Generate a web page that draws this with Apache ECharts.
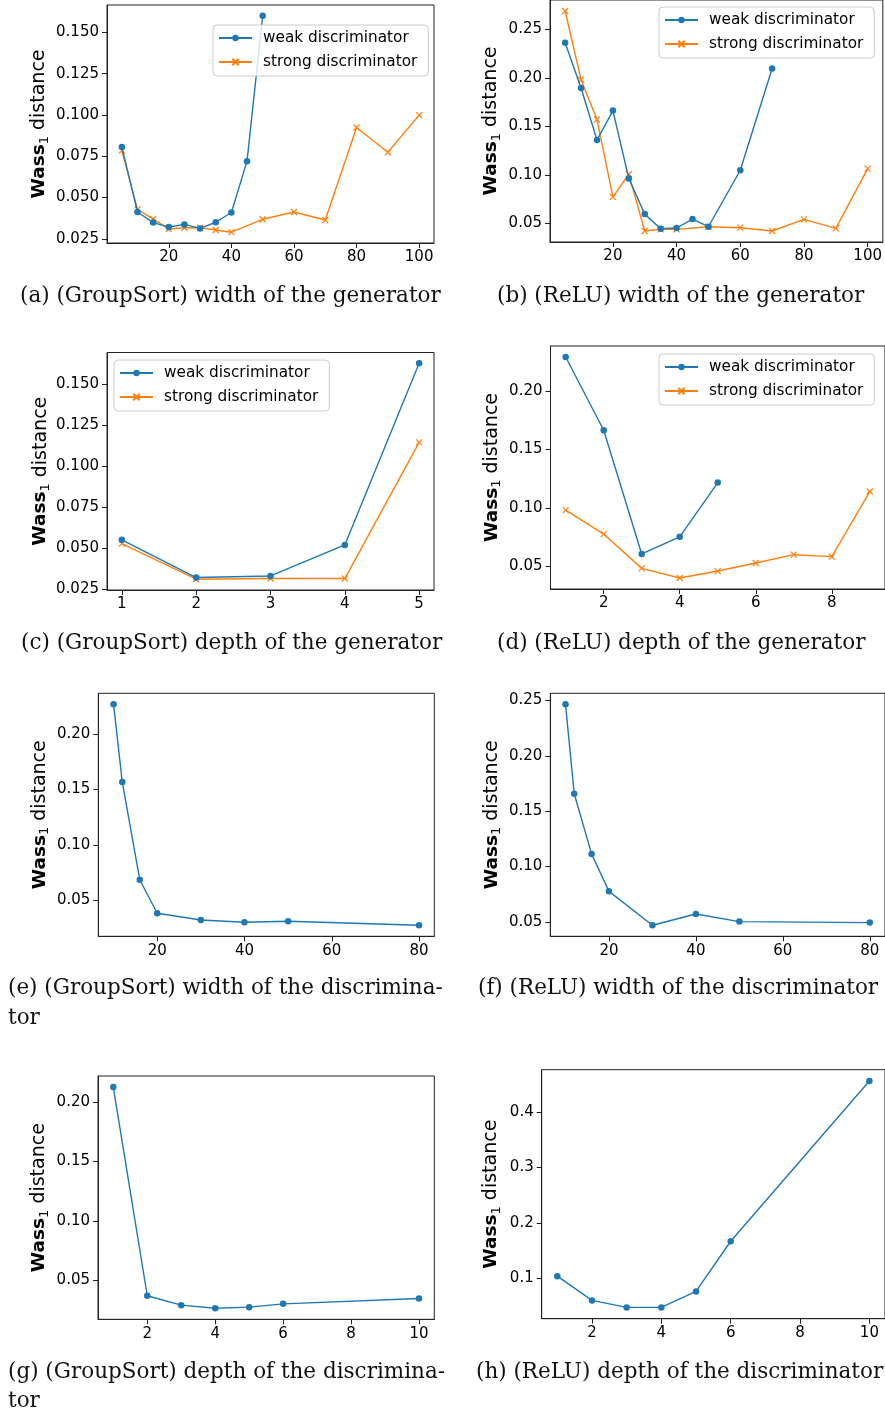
<!DOCTYPE html>
<html><head><meta charset="utf-8">
<script src="https://cdn.jsdelivr.net/npm/echarts@6/dist/echarts.min.js"></script>
<style>html,body{margin:0;padding:0;background:#fff}#c{width:885px;height:1414px}</style>
</head><body><div id="c"></div>
<script>
// ---------- data ----------
const aWeakX = [5,10,15,20,25,30,35,40,45,50];
const aWeakY = [0.0805,0.0412,0.0348,0.0321,0.0337,0.0313,0.0350,0.0409,0.0720,0.1600];
const aStrongX = [5,10,15,20,25,30,35,40,50,60,70,80,90,100];
const aStrongY = [0.0784,0.0428,0.0371,0.0309,0.0317,0.0317,0.0303,0.0290,0.0368,0.0412,0.0364,0.0924,0.0774,0.0999];
const bWeakX = [5,10,15,20,25,30,35,40,45,50,60,70];
const bWeakY = [0.2360,0.1895,0.1358,0.1662,0.0962,0.0595,0.0445,0.0452,0.0544,0.0465,0.1047,0.2096];
const bStrongX = [5,10,15,20,25,30,35,40,50,60,70,80,90,100];
const bStrongY = [0.2688,0.1980,0.1570,0.0773,0.1006,0.0421,0.0438,0.0438,0.0465,0.0455,0.0421,0.0541,0.0448,0.1064];
const cX = [1,2,3,4,5];
const cWeakY = [0.0551,0.0321,0.0331,0.0520,0.1628];
const cStrongY = [0.0528,0.0311,0.0315,0.0315,0.1146];
const dWeakX = [1,2,3,4,5];
const dWeakY = [0.2290,0.1664,0.0606,0.0753,0.1217];
const dStrongX = [1,2,3,4,5,6,7,8,9];
const dStrongY = [0.0981,0.0776,0.0483,0.0401,0.0460,0.0529,0.0600,0.0583,0.1140];
const eX = [10,12,16,20,30,40,50,80];
const eY = [0.2270,0.1568,0.0686,0.0383,0.0323,0.0302,0.0311,0.0275];
const fX = [10,12,16,20,30,40,50,80];
const fY = [0.2464,0.1657,0.1114,0.0776,0.0470,0.0572,0.0503,0.0494];
const gX = [1,2,3,4,5,6,10];
const gY = [0.2126,0.0372,0.0293,0.0267,0.0276,0.0304,0.0349];
const hX = [1,2,3,4,5,6,10];
const hY = [0.1041,0.0605,0.0479,0.0479,0.0766,0.1670,0.4557];

const xTicksWidthGen = [20,40,60,80,100];
const xTicksDepthGS = [1,2,3,4,5];
const xTicksDepthReLU = [2,4,6,8];
const xTicksWidthDisc = [20,40,60,80];
const xTicksDepthDisc = [2,4,6,8,10];
const yTicksA = [0.025,0.050,0.075,0.100,0.125,0.150];
const yTicksB = [0.05,0.10,0.15,0.20,0.25];
const yTicksC = [0.025,0.050,0.075,0.100,0.125,0.150];
const yTicksD = [0.05,0.10,0.15,0.20];
const yTicksE = [0.05,0.10,0.15,0.20];
const yTicksF = [0.05,0.10,0.15,0.20,0.25];
const yTicksG = [0.05,0.10,0.15,0.20];
const yTicksH = [0.1,0.2,0.3,0.4];

const captions = [
  ['(a) (GroupSort) width of the generator'],
  ['(b) (ReLU) width of the generator'],
  ['(c) (GroupSort) depth of the generator'],
  ['(d) (ReLU) depth of the generator'],
  ['(e) (GroupSort) width of the discrimina-','tor'],
  ['(f) (ReLU) width of the discriminator'],
  ['(g) (GroupSort) depth of the discrimina-','tor'],
  ['(h) (ReLU) depth of the discriminator']
];
const WEAK = 'weak discriminator', STRONG = 'strong discriminator';

// ---------- helpers ----------
const BLUE = '#1f77b4', ORANGE = '#ff7f0e';
const zip = (xs, ys) => xs.map((x, i) => [x, ys[i]]);
function lim(arrs) {
  let mn = Infinity, mx = -Infinity;
  arrs.forEach(a => a.forEach(v => { mn = Math.min(mn, v); mx = Math.max(mx, v); }));
  const p = (mx - mn) * 0.05;
  return [mn - p, mx + p];
}
const CROSS = 'path://M0,0L10,10M10,0L0,10';

const panels = [
  {g:[107,5,327,238], xs:[aWeakX,aStrongX], ys:[aWeakY,aStrongY], xt:xTicksWidthGen, yt:yTicksA, dec:3, gap:57, leg:[213,25]},
  {g:[550,-1,337.5,243], xs:[bWeakX,bStrongX], ys:[bWeakY,bStrongY], xt:xTicksWidthGen, yt:yTicksB, dec:2, gap:48, leg:[659,7]},
  {g:[107,352.5,327,237.5], xs:[cX,cX], ys:[cWeakY,cStrongY], xt:xTicksDepthGS, yt:yTicksC, dec:3, gap:55, leg:[114,360]},
  {g:[550.5,346,337.5,243], xs:[dWeakX,dStrongX], ys:[dWeakY,dStrongY], xt:xTicksDepthReLU, yt:yTicksD, dec:2, gap:48, leg:[659,354]},
  {g:[98.3,693.3,336,243], xs:[eX], ys:[eY], xt:xTicksWidthDisc, yt:yTicksE, dec:2, gap:48},
  {g:[550.3,693.3,337.5,243], xs:[fX], ys:[fY], xt:xTicksWidthDisc, yt:yTicksF, dec:2, gap:48},
  {g:[98,1076,336.3,243.3], xs:[gX], ys:[gY], xt:xTicksDepthDisc, yt:yTicksG, dec:2, gap:48},
  {g:[541.7,1069.7,346,249], xs:[hX], ys:[hY], xt:xTicksDepthDisc, yt:yTicksH, dec:1, gap:40}
];
const capPos = [[20,296],[497,296],[21,643],[497,643],[8,988,1018],[478,988],[8,1372,1401],[476,1372]];

const grid = [], xAxis = [], yAxis = [], series = [], legend = [], graphic = [];
const tickFont = {fontFamily:'DejaVu Sans', fontSize:15, color:'#000'};
panels.forEach((p, i) => {
  grid.push({left:p.g[0], top:p.g[1], width:p.g[2], height:p.g[3], show:true, borderColor:'#222', borderWidth:1, containLabel:false});
  const xl = lim(p.xs), yl = lim(p.ys);
  xAxis.push({type:'value', gridIndex:i, min:xl[0], max:xl[1],
    axisLine:{show:true, onZero:false, lineStyle:{color:'#222', width:1}},
    axisTick:{show:true, length:5, inside:false, customValues:p.xt, lineStyle:{color:'#222'}},
    axisLabel:Object.assign({customValues:p.xt, margin:7, formatter:v => String(v)}, tickFont),
    splitLine:{show:false}});
  yAxis.push({type:'value', gridIndex:i, min:yl[0], max:yl[1],
    axisLine:{show:true, onZero:false, lineStyle:{color:'#222', width:1}},
    axisTick:{show:true, length:5, inside:false, customValues:p.yt, lineStyle:{color:'#222'}},
    axisLabel:Object.assign({customValues:p.yt, margin:8, formatter:v => v.toFixed(p.dec)}, tickFont),
    splitLine:{show:false},
    name:'{b|Wass}{s|1}{n| distance}', nameLocation:'middle', nameRotate:90, nameGap:p.gap,
    nameTextStyle:{color:'#000', rich:{
      b:{fontFamily:'DejaVu Sans', fontWeight:'bold', fontSize:18.5, color:'#000', verticalAlign:'top', lineHeight:20},
      s:{fontFamily:'DejaVu Sans', fontSize:13, color:'#000', verticalAlign:'top', lineHeight:16, padding:[8,0,0,0]},
      n:{fontFamily:'DejaVu Sans', fontSize:19, color:'#000', verticalAlign:'top', lineHeight:20}
    }}});
  series.push({type:'line', name:WEAK, xAxisIndex:i, yAxisIndex:i, data:zip(p.xs[0], p.ys[0]),
    symbol:'circle', symbolSize:6.5, showSymbol:true, lineStyle:{color:BLUE, width:1.4},
    itemStyle:{color:BLUE}, animation:false, z:3});
  if (p.xs.length > 1) {
    series.push({type:'line', name:STRONG, xAxisIndex:i, yAxisIndex:i, data:zip(p.xs[1], p.ys[1]),
      symbol:CROSS, symbolSize:6, showSymbol:true, lineStyle:{color:ORANGE, width:1.4},
      itemStyle:{color:ORANGE, borderColor:ORANGE, borderWidth:1.2}, animation:false, z:2});
  }
  if (p.leg) {
    legend.push({orient:'vertical', left:p.leg[0], top:p.leg[1], data:[WEAK, STRONG],
      itemWidth:33, itemHeight:8, itemGap:8, padding:[5,11,6,5],
      backgroundColor:'rgba(255,255,255,0.8)', borderColor:'#cccccc', borderWidth:1, borderRadius:4,
      textStyle:{fontFamily:'DejaVu Sans', fontSize:15.3, color:'#000', padding:[0,0,0,6], lineHeight:16},
      selectedMode:false});
  }
  const cp = capPos[i];
  captions[i].forEach((t, k) => {
    graphic.push({type:'text', x:cp[0], y:cp[1 + k], silent:true,
      style:{text:t, font:'21.5px "DejaVu Serif"', fill:'#111', align:'left', verticalAlign:'middle'}});
  });
});

const chart = echarts.init(document.getElementById('c'), null, {renderer:'canvas'});
chart.setOption({animation:false, backgroundColor:'#fff', grid, xAxis, yAxis, series, legend, graphic});
</script></body></html>
